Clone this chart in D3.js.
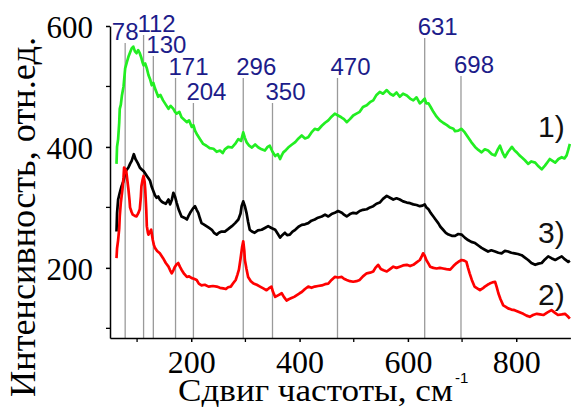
<!DOCTYPE html>
<html>
<head>
<meta charset="utf-8">
<script src="https://cdn.jsdelivr.net/npm/d3@7"></script>
<style>
body { margin: 0; background: #fff; }
svg { display: block; }
</style>
</head>
<body>
<script>
// Raman peaks marked on the chart
const peaks = [78, 112, 130, 171, 204, 296, 350, 470, 631, 698];
// label baseline (px) for each peak marker, so they stagger like the original
const peakLabelY = [40, 32, 53, 75, 100, 75, 100, 75, 35, 73];

const xTicks = [200, 400, 600, 800];
const xMinor = [100, 300, 500, 700];
const yTicks = [200, 400, 600];
const yMinor = [100, 300, 500];

// spectrum 1) green
const spec1 = [[62,372],[63,400],[65,413],[67,440],[68,463],[70,470],[72,485],[75,500],[78,530],[81,540],[84,549],[87,556],[90,563],[93,566],[96,558],[99,555],[102,560],[105,555],[108,547],[110,540],[112,535],[115,538],[118,530],[121,519],[124,512],[127,502],[130,506],[133,497],[136,490],[139,483],[143,486],[148,477],[153,470],[158,463],[162,468],[167,463],[170,458],[173,455],[178,458],[182,449],[187,445],[192,441],[196,444],[201,433],[204,436],[207,427],[211,420],[216,413],[222,405],[228,402],[234,398],[241,397],[247,392],[253,394],[258,390],[262,396],[268,400],[275,399],[281,405],[287,413],[292,410],[296,424],[299,415],[302,408],[307,402],[312,399],[318,404],[324,399],[330,396],[336,394],[341,400],[345,402],[350,392],[355,385],[360,388],[364,380],[367,386],[370,391],[375,395],[379,399],[386,404],[392,408],[398,414],[404,419],[410,414],[416,416],[422,424],[428,430],[434,428],[441,435],[447,440],[453,444],[459,450],[465,455],[471,452],[477,449],[482,446],[487,441],[493,446],[499,452],[505,455],[511,458],[517,466],[524,469],[530,474],[536,477],[542,486],[548,491],[554,488],[561,494],[567,488],[573,485],[579,490],[585,483],[591,488],[598,485],[604,480],[610,477],[616,482],[622,472],[627,476],[631,480],[634,472],[638,472],[642,466],[647,458],[653,450],[659,444],[665,440],[672,436],[678,432],[684,430],[687,426],[693,427],[699,430],[705,424],[711,416],[717,408],[724,400],[730,395],[736,391],[742,396],[748,394],[755,388],[761,386],[766,396],[770,402],[775,390],[779,383],[785,392],[792,400],[797,394],[801,391],[806,386],[810,383],[816,378],[822,372],[828,376],[835,374],[841,368],[847,363],[853,369],[858,375],[862,380],[867,377],[872,374],[878,380],[884,383],[889,381],[893,386],[896,395],[899,405]];

// spectrum 3) black
const spec3 = [[62,260],[63,290],[65,313],[68,324],[71,334],[74,341],[77,352],[79,360],[84,366],[87,372],[90,377],[94,388],[97,380],[99,377],[102,372],[105,366],[108,363],[112,360],[115,356],[118,352],[121,348],[124,344],[127,334],[130,327],[133,320],[136,316],[139,318],[142,313],[145,310],[148,308],[153,306],[158,313],[161,305],[164,312],[167,324],[170,318],[173,308],[177,296],[182,285],[187,283],[192,280],[195,286],[198,291],[203,298],[207,302],[210,296],[213,291],[216,282],[219,274],[223,272],[228,269],[233,266],[238,263],[242,258],[247,255],[251,258],[256,260],[262,260],[268,264],[275,269],[281,274],[287,280],[291,290],[293,302],[296,310],[299,302],[302,291],[305,276],[308,263],[312,260],[317,258],[323,262],[330,263],[336,266],[342,269],[348,266],[355,263],[360,256],[364,250],[368,254],[373,258],[377,254],[382,255],[387,260],[392,263],[398,268],[404,271],[410,272],[416,274],[422,278],[428,280],[434,283],[441,285],[447,288],[453,285],[459,289],[465,291],[471,294],[478,291],[482,288],[487,285],[493,289],[499,291],[505,290],[511,294],[517,296],[524,297],[530,300],[536,302],[542,306],[548,308],[554,314],[561,319],[567,316],[573,313],[579,315],[585,313],[591,310],[598,308],[604,307],[610,305],[616,304],[622,302],[627,303],[631,305],[634,300],[638,297],[642,291],[647,285],[651,280],[656,274],[660,268],[665,263],[670,258],[675,255],[681,253],[687,253],[693,256],[699,255],[705,250],[711,246],[717,243],[724,241],[730,237],[736,233],[742,230],[748,227],[754,229],[761,227],[767,225],[773,224],[779,228],[785,227],[791,225],[797,224],[803,223],[810,221],[816,217],[822,213],[828,208],[835,205],[841,207],[847,208],[853,214],[859,219],[865,216],[872,213],[878,216],[884,219],[890,214],[896,210],[899,212]];

// spectrum 2) red
const spec2 = [[62,216],[63,232],[65,246],[67,265],[68,285],[70,308],[73,330],[75,350],[76,366],[78,363],[80,360],[82,345],[84,330],[86,312],[87,300],[90,292],[92,288],[96,286],[99,285],[102,290],[105,297],[107,318],[108,335],[110,345],[112,352],[114,342],[115,330],[117,295],[118,269],[120,258],[121,255],[124,260],[126,263],[128,252],[129,246],[131,238],[133,233],[137,228],[142,224],[145,220],[148,216],[153,208],[158,202],[161,196],[164,191],[167,196],[170,202],[173,206],[176,208],[179,202],[182,197],[187,190],[192,185],[196,186],[201,183],[205,182],[210,180],[214,174],[219,171],[225,172],[232,169],[240,170],[247,169],[253,167],[259,166],[264,165],[268,168],[273,169],[277,174],[282,180],[285,188],[288,197],[291,215],[294,235],[296,244],[298,228],[299,213],[302,198],[305,185],[310,178],[315,174],[321,172],[327,169],[333,166],[339,163],[343,166],[348,169],[351,160],[355,152],[361,155],[367,158],[371,152],[376,146],[380,148],[385,150],[390,152],[395,155],[400,158],[404,160],[410,165],[416,169],[422,167],[428,169],[434,170],[441,171],[447,173],[453,174],[459,180],[465,185],[471,184],[478,185],[482,182],[487,180],[493,178],[499,177],[505,178],[511,180],[517,186],[524,191],[530,192],[536,194],[540,200],[545,205],[550,198],[555,196],[561,194],[567,198],[573,202],[579,200],[585,202],[591,204],[598,205],[604,203],[610,205],[616,209],[622,213],[625,218],[628,224],[631,220],[634,213],[638,207],[641,202],[647,200],[653,199],[659,200],[665,199],[671,198],[678,197],[684,203],[690,208],[695,211],[699,213],[704,212],[708,210],[711,200],[714,191],[718,180],[723,169],[728,166],[733,163],[738,166],[742,169],[747,172],[751,174],[756,176],[761,177],[764,168],[767,158],[771,148],[776,138],[780,136],[785,133],[791,131],[797,130],[805,127],[813,124],[819,121],[825,119],[831,122],[838,124],[844,123],[850,122],[857,126],[865,130],[871,126],[877,122],[884,123],[890,124],[895,120],[899,116]];

const seriesLabels = ["1)", "3)", "2)"];

let svgWidth = 571;
let svgHeight = 407;

let svg = d3.select("body")
    .append("svg")
    .attr("width", svgWidth)
    .attr("height", svgHeight);

let xScale = d3.scaleLinear().domain([50, 900]).range([110, 570.4]);
let yScale = d3.scaleLinear().domain([84, 600]).range([338, 26]);

let serif = "'Liberation Serif', 'Times New Roman', serif";
let sans = "'Liberation Sans', Arial, sans-serif";

// grey peak marker lines
svg.append("g").selectAll("line")
    .data(peaks)
    .enter()
    .append("line")
    .attr("x1", d => xScale(d))
    .attr("x2", d => xScale(d))
    .attr("y1", (d, i) => peakLabelY[i] + 3)
    .attr("y2", yScale(84))
    .attr("stroke", "#9a9a9a")
    .attr("stroke-width", 1.3);

svg.append("g").selectAll("text")
    .data(peaks)
    .enter()
    .append("text")
    .attr("x", d => xScale(d) + (d < 100 ? 0 : 13))
    .attr("y", (d, i) => peakLabelY[i])
    .attr("text-anchor", "middle")
    .style("font-family", sans)
    .style("font-size", "24px")
    .attr("fill", "#1c1c8a")
    .text(d => d);

// spectra
let line = d3.line()
    .x(d => xScale(d[0]))
    .y(d => yScale(d[1]));

let spectra = [
    {data: spec1, color: "#22ee22"},
    {data: spec3, color: "#000000"},
    {data: spec2, color: "#ff0000"}
];

svg.append("g").selectAll("path")
    .data(spectra)
    .enter()
    .append("path")
    .attr("d", d => line(d.data))
    .attr("fill", "none")
    .attr("stroke", d => d.color)
    .attr("stroke-width", 2.7)
    .attr("stroke-linejoin", "round");

// axes
let bottomAxis = d3.axisBottom(xScale).tickValues(xTicks).tickSize(4).tickSizeOuter(0).tickFormat(d3.format("d"));
let leftAxis = d3.axisLeft(yScale).tickValues(yTicks).tickSize(4).tickSizeOuter(0).tickFormat(d3.format("d"));

let gx = svg.append("g")
    .attr("transform", `translate(0, ${yScale(84)})`)
    .call(bottomAxis);
xMinor.forEach(v => {
    gx.append("line").attr("x1", xScale(v)).attr("x2", xScale(v)).attr("y1", 0).attr("y2", 4).attr("stroke", "#000").attr("stroke-width", 1.3);
});
gx.selectAll(".tick text")
    .attr("y", 12)
    .attr("dy", "0.71em")
    .style("font-family", serif)
    .style("font-size", "32px")
    .attr("fill", "#000");

let gy = svg.append("g")
    .attr("transform", `translate(${xScale(50)}, 0)`)
    .call(leftAxis);
yMinor.forEach(v => {
    gy.append("line").attr("x1", 0).attr("x2", -4).attr("y1", yScale(v)).attr("y2", yScale(v)).attr("stroke", "#000").attr("stroke-width", 1.3);
});
gy.selectAll(".tick text")
    .attr("x", -17)
    .attr("dy", "0.36em")
    .style("font-family", serif)
    .style("font-size", "31px")
    .attr("fill", "#000");

svg.selectAll(".domain, .tick line").attr("stroke", "#000").attr("stroke-width", 1.5);

// series labels
let labelY = [137, 243, 305];
svg.append("g").selectAll("text")
    .data(seriesLabels)
    .enter()
    .append("text")
    .attr("x", 538)
    .attr("y", (d, i) => labelY[i])
    .style("font-family", sans)
    .style("font-size", "30px")
    .attr("fill", "#111")
    .text(d => d);

// axis titles
svg.append("text")
    .attr("x", 178)
    .attr("y", 401)
    .style("font-family", serif)
    .style("font-size", "32px")
    .attr("textLength", 275)
    .attr("lengthAdjust", "spacingAndGlyphs")
    .text("Сдвиг частоты, см");

svg.append("text")
    .attr("x", 455)
    .attr("y", 383)
    .style("font-family", sans)
    .style("font-size", "15px")
    .text("-1");

svg.append("text")
    .attr("transform", "translate(35, 217) rotate(-90)")
    .attr("text-anchor", "middle")
    .style("font-family", serif)
    .style("font-size", "36px")
    .attr("textLength", 360)
    .attr("lengthAdjust", "spacingAndGlyphs")
    .text("Интенсивность, отн.ед.");
</script>
</body>
</html>
